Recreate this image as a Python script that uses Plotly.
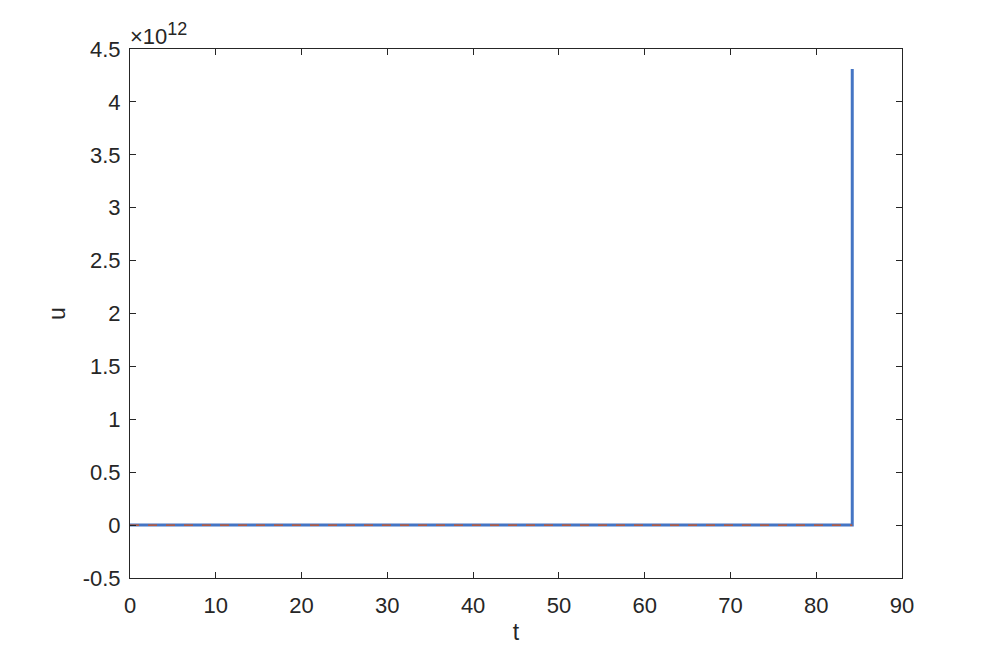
import plotly.graph_objects as go

# solution trace: flat at zero, blows up near t = 84.2
t_sol = [0, 84.2, 84.2]
u_sol = [0, 0, 4.31e12]

# reference (dashed) trace
t_ref = [0, 84.2]
u_ref = [0, 0]

y_ticks = [-0.5, 0, 0.5, 1, 1.5, 2, 2.5, 3, 3.5, 4, 4.5]
y_tick_text = ["-0.5", "0", "0.5", "1", "1.5", "2", "2.5", "3", "3.5", "4", "4.5"]
x_ticks = [0, 10, 20, 30, 40, 50, 60, 70, 80, 90]

FONT = "Liberation Sans, Arial, Helvetica, sans-serif"
TXT = "#262626"

fig = go.Figure()

fig.add_trace(go.Scatter(
    x=t_sol, y=u_sol,
    mode="lines",
    line=dict(color="#4575c4", width=3),
    showlegend=False
))

fig.add_trace(go.Scatter(
    x=t_ref, y=u_ref,
    mode="lines",
    line=dict(color="#d95319", width=1.2, dash="dash"),
    showlegend=False
))

fig.add_annotation(
    text="×10<sup><span style='font-size:18px'>12</span></sup>",
    xref="paper", yref="paper",
    x=0, y=1,
    xanchor="left", yanchor="bottom",
    xshift=-2, yshift=-2,
    showarrow=False,
    font=dict(family=FONT, size=22, color=TXT)
)

# page body has an 8px offset, so margins are shifted to keep the box in place
fig.update_layout(
    width=997,
    height=650,
    margin=dict(l=122, r=103, t=41, b=80),
    paper_bgcolor="white",
    plot_bgcolor="white",
    font=dict(family=FONT, size=22, color=TXT),
    xaxis=dict(
        range=[0, 90],
        tickvals=x_ticks,
        title=dict(text="t", font=dict(size=23), standoff=6),
        ticklabelstandoff=8,
    ),
    yaxis=dict(
        range=[-0.5e12, 4.5e12],
        tickvals=[v * 1e12 for v in y_ticks],
        ticktext=y_tick_text,
        title=dict(text="u", font=dict(size=23), standoff=10),
        ticklabelstandoff=4,
    ),
)

fig.update_xaxes(showline=True, linewidth=1, linecolor=TXT, mirror="ticks",
                 ticks="inside", ticklen=6, tickcolor=TXT, showgrid=False, zeroline=False)
fig.update_yaxes(showline=True, linewidth=1, linecolor=TXT, mirror="ticks",
                 ticks="inside", ticklen=6, tickcolor=TXT, showgrid=False, zeroline=False)

fig.write_html("out.html")
